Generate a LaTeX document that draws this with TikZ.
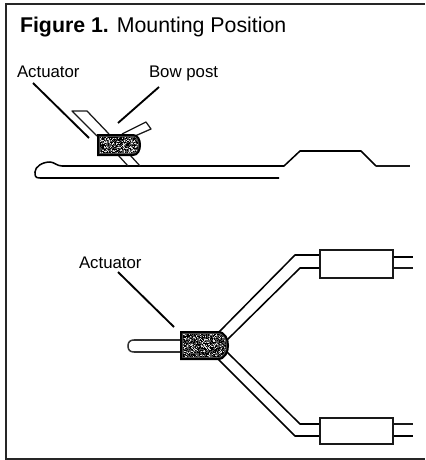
\documentclass[tikz,border=0pt]{standalone}
\usepackage{fontspec}
\setmainfont{Liberation Sans}
\tikzset{
  wire/.style={draw=black,line width=1.15pt,line join=round},
  thin wire/.style={draw=black!90,line width=0.95pt,line join=round},
  leader/.style={draw=black,line width=1.4pt},
  frame/.style={draw=black!85,line width=1.4pt},
  label/.style={anchor=base west,inner sep=0pt,outer sep=0pt,font=\fontsize{12.6}{14}\selectfont,text=black},
  title/.style={anchor=base west,inner sep=0pt,outer sep=0pt,font=\fontsize{16}{18}\selectfont,text=black},
  sleeve/.style={draw=black,line width=1.5pt,fill=black!68},
}
\newcommand{\speckle}[4]{%
  \foreach \ix in {#1,...,#3}{\foreach \iy in {#2,...,#4}{%
    \pgfmathsetmacro{\rr}{rnd}%
    \ifdim\rr pt<0.2pt \fill[black!12] (\ix,\iy) rectangle +(1.4,1.4);\fi
    \ifdim\rr pt>0.6pt \fill[black] (\ix,\iy) rectangle +(1.4,1.4);\fi
  }}}
\begin{document}
\begin{tikzpicture}[x=0.75pt,y=-0.75pt]
\useasboundingbox (0,0) rectangle (425,460);
\pgfmathsetseed{7}
% frame
\draw[frame] (425,4) -- (6,4) -- (6,459) -- (425,459);
% texts
\node[title] (ttl) at (20,33) {\textbf{Figure 1.} Mounting Position};
\node[label] (act1) at (17,78) {Actuator};
\node[label] (bow) at (149,78) {Bow post};
\node[label] (act2) at (79,268) {Actuator};
% leaders
\coordinate (act1a) at (33,83); \coordinate (act1b) at (89,138);
\coordinate (bowa) at (159,87); \coordinate (bowb) at (118,123);
\coordinate (act2a) at (118,272); \coordinate (act2b) at (174,327);
\draw[leader] (act1a) -- (act1b);
\draw[leader] (bowa) -- (bowb);
\draw[leader] (act2a) -- (act2b);
% upper view: body
\draw[wire] (279,178) -- (40,178) .. controls (35,178) and (35,176) .. (35,172)
  .. controls (35,167) and (42,162) .. (50,162) .. controls (54,162) and (57,166) .. (62,166)
  -- (284,166) -- (300,151) -- (361,151) -- (376,166);
\draw[thin wire] (376,166) -- (410,166);
% upper view: strap
\draw[thin wire] (109,134) -- (87,111) -- (72,111) -- (97,136);
\draw[thin wire] (118,155) -- (128,166);
\draw[thin wire] (130,155) -- (140,166);
\draw[thin wire] (122,134) -- (146,122) -- (151,129) -- (135,136);
% upper view: sleeve
\draw[sleeve] (98,135) -- (133,135) .. controls (138,135) and (140,140) .. (140,145)
  .. controls (140,150) and (138,155) .. (133,155) -- (98,155) -- cycle;
\begin{scope}
\clip (100,137) -- (133,137) .. controls (137,137) and (138,141) .. (138,145)
  .. controls (138,149) and (137,153) .. (133,153) -- (100,153) -- cycle;
\speckle{100}{137}{138}{153}
\end{scope}
% lower view: pin
\draw[wire,draw=black!80] (181,340) -- (134,340) .. controls (130,340) and (128,342) .. (128,346)
  .. controls (128,350) and (130,352) .. (134,352) -- (181,352);
% lower view: wires
\draw[wire] (218,333) -- (295,255) -- (319,255);
\draw[wire] (227,340) -- (300,268) -- (319,268);
\draw[wire] (227,352) -- (300,424) -- (319,424);
\draw[wire] (218,359) -- (295,436) -- (319,436);
% lower view: sleeve
\draw[sleeve] (181,332) -- (218,332) .. controls (225,332) and (228,339) .. (228,345.5)
  .. controls (228,352) and (225,359) .. (218,359) -- (181,359) -- cycle;
\begin{scope}
\clip (183,334) -- (218,334) .. controls (223,334) and (226,340) .. (226,345.5)
  .. controls (226,351) and (223,357) .. (218,357) -- (183,357) -- cycle;
\speckle{183}{334}{226}{357}
\end{scope}
% terminals
\node[draw=black!90,line width=1.15pt,minimum width=73pt*0.75,minimum height=28pt*0.75,inner sep=0pt,anchor=north west] (boxa) at (319,249) {};
\node[draw=black!90,line width=1.15pt,minimum width=73pt*0.75,minimum height=26pt*0.75,inner sep=0pt,anchor=north west] (boxb) at (319,417) {};
\coordinate (sa1) at (413,257); \coordinate (sa2) at (413,268);
\coordinate (sb1) at (413,424); \coordinate (sb2) at (413,436);
\draw[wire] (boxa.east |- sa1) -- (sa1);
\draw[thin wire] (boxa.east |- sa2) -- (sa2);
\draw[thin wire] (boxb.east |- sb1) -- (sb1);
\draw[wire] (boxb.east |- sb2) -- (sb2);
\end{tikzpicture}
\end{document}
